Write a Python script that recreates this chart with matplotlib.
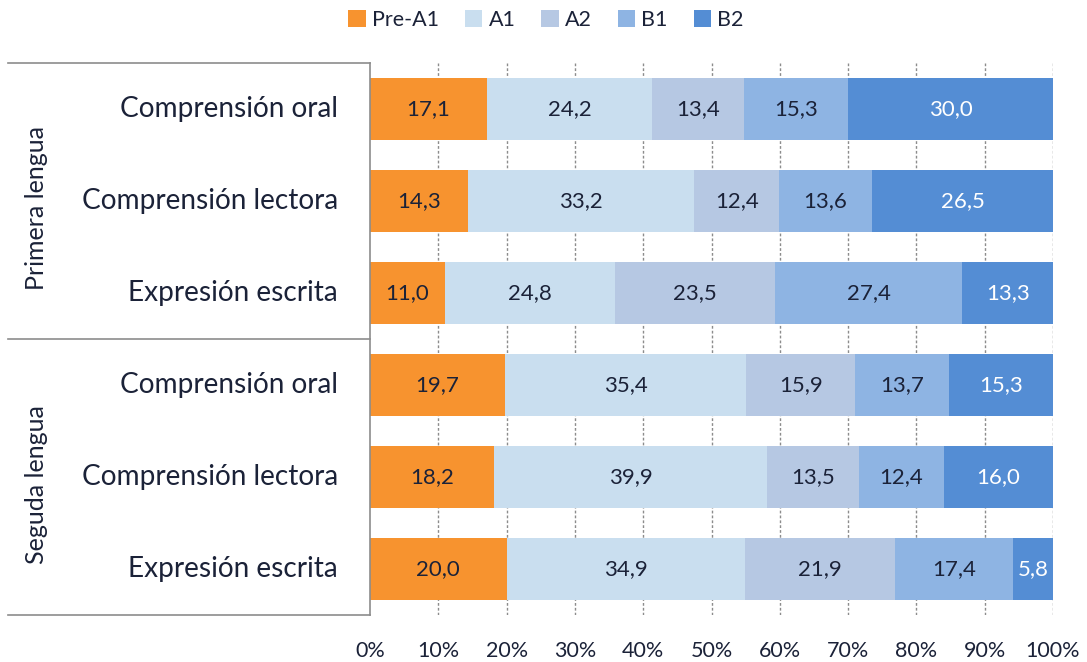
import matplotlib
matplotlib.use("Agg")
import matplotlib.pyplot as plt
import numpy as np

plt.rcParams['font.family'] = ['Lato', 'DejaVu Sans']

levels = ["Pre-A1", "A1", "A2", "B1", "B2"]
groups = ["Primera lengua", "Seguda lengua"]
skills = ["Comprensión oral", "Comprensión lectora", "Expresión escrita"]

pre_a1 = [17.1, 14.3, 11.0, 19.7, 18.2, 20.0]
a1 = [24.2, 33.2, 24.8, 35.4, 39.9, 34.9]
a2 = [13.4, 12.4, 23.5, 15.9, 13.5, 21.9]
b1 = [15.3, 13.6, 27.4, 13.7, 12.4, 17.4]
b2 = [30.0, 26.5, 13.3, 15.3, 16.0, 5.8]

xticks = [0, 10, 20, 30, 40, 50, 60, 70, 80, 90, 100]
xtick_labels = [f"{t}%" for t in xticks]

colors = ["#F7932F", "#C9DEEF", "#B6C8E3", "#8EB4E3", "#548DD4"]
text_colors = ["#1B2238", "#1B2238", "#1B2238", "#1B2238", "#FFFFFF"]

series = [pre_a1, a1, a2, b1, b2]
n = len(pre_a1)
y = np.arange(n)

fig = plt.figure(figsize=(10.87, 6.62), dpi=100)
ax = fig.add_axes([370/1087, 1-615/662, (1053-370)/1087, (615-63)/662])

left = np.zeros(n)
for s, vals in enumerate(series):
    vals = np.array(vals)
    ax.barh(y, vals, left=left, height=0.67, color=colors[s], label=levels[s], zorder=2)
    for i, v in enumerate(vals):
        ax.text(left[i] + v/2, y[i], f"{v:.1f}".replace('.', ','), ha='center', va='center',
                fontsize=16, color=text_colors[s], zorder=3)
    left += vals

ax.set_xlim(0, 100)
ax.set_ylim(n - 0.5, -0.5)
ax.set_xticks(xticks)
ax.set_xticklabels(xtick_labels, fontsize=15.5, color="#1B2238")
ax.tick_params(axis='x', length=0, pad=19)
ax.set_yticks([])
for g in xticks[1:]:
    ax.axvline(g, color="#8C8C8C", linestyle=(0, (2, 1.5)), linewidth=1.0, zorder=1)

for sp in ['top', 'right', 'bottom']:
    ax.spines[sp].set_visible(False)
ax.spines['left'].set_color('#8C8C8C')
ax.spines['left'].set_linewidth(1.2)

labels = skills * len(groups)
for i, lab in enumerate(labels):
    ax.text(-0.047, y[i], lab, transform=ax.get_yaxis_transform(), ha='right', va='center',
            fontsize=20.2, color="#1B2238")

x0 = (8 - 370) / 683
for yl in [-0.5, 2.5, 5.5]:
    ax.plot([x0, 0], [yl, yl], transform=ax.get_yaxis_transform(), color='#8C8C8C',
            linewidth=1.2, clip_on=False)

for gi, g in enumerate(groups):
    ax.text((37 - 370) / 683, gi * 3 + 1.08, g, transform=ax.get_yaxis_transform(), rotation=90,
            ha='center', va='center', fontsize=18, color="#1B2238")

fig.legend(loc='center', bbox_to_anchor=(546/1087, 1-20/662), ncol=5, frameon=False,
           fontsize=15.5, handlelength=0.8, handleheight=0.8, handletextpad=0.3,
           columnspacing=1.2, labelcolor="#1B2238")

fig.savefig("out.png", dpi=100)
